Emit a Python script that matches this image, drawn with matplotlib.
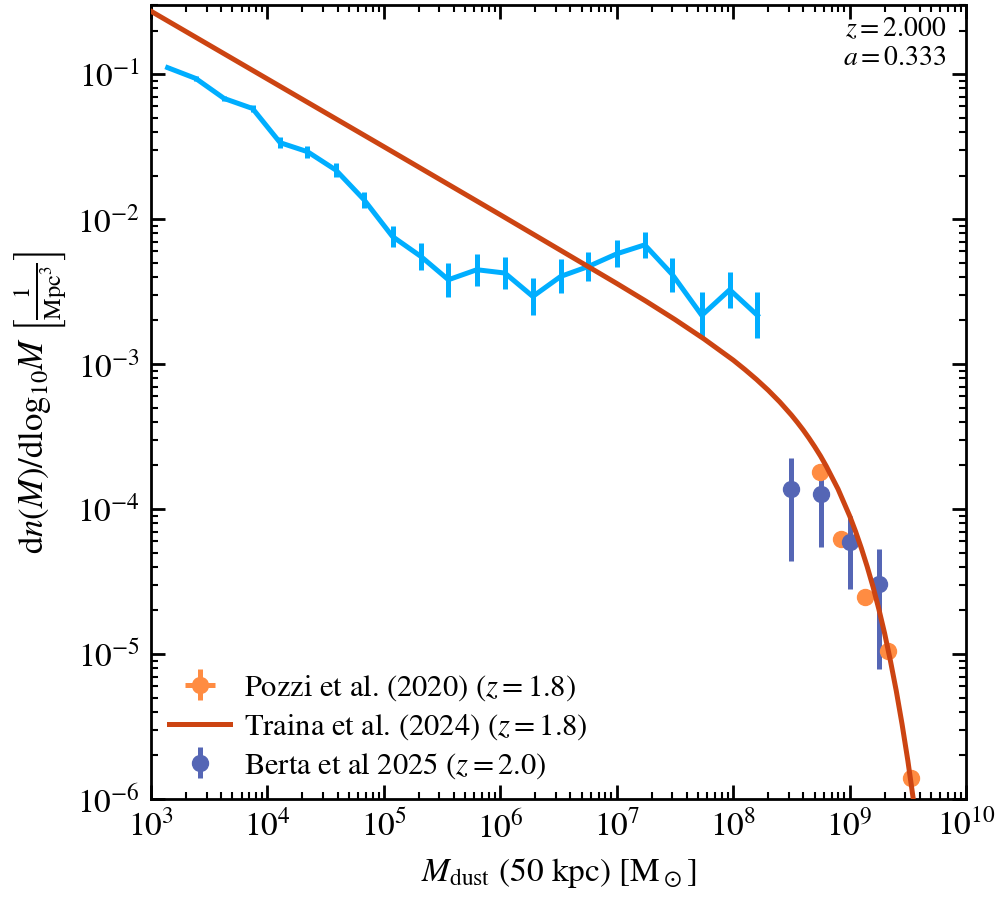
import numpy as np
import matplotlib
matplotlib.use("Agg")
import matplotlib.pyplot as plt

# ---- Data ----
# Simulation (blue line with error bars)
sim_logm = [3.143, 3.385, 3.628, 3.872, 4.109, 4.344, 4.588, 4.830, 5.074, 5.318,
            5.554, 5.798, 6.039, 6.279, 6.519, 6.757, 7.000, 7.240, 7.478, 7.730,
            7.970, 8.208]
sim_phi = [0.111, 0.0934, 0.068, 0.058, 0.0337, 0.0292, 0.0218, 0.0136, 0.00759, 0.00553,
           0.00382, 0.00448, 0.00425, 0.00293, 0.00403, 0.00472, 0.00577, 0.00665, 0.00414, 0.00217,
           0.00326, 0.00217]
sim_err_dex = [0.01, 0.02, 0.02, 0.025, 0.04, 0.04, 0.05, 0.055, 0.075, 0.096,
               0.117, 0.11, 0.11, 0.13, 0.117, 0.103, 0.093, 0.09, 0.117, 0.158,
               0.124, 0.158]

# Traina et al. (2024) curve
tr_logm = [3.0, 4.0, 5.0, 6.0, 7.0, 7.25, 7.5, 7.75, 8.0, 8.1, 8.2, 8.3, 8.4, 8.45, 8.5, 8.55,
           8.6, 8.65, 8.7, 8.75, 8.8, 8.9, 9.0, 9.05, 9.1, 9.15, 9.2, 9.25, 9.3, 9.35, 9.4,
           9.45, 9.5, 9.55, 9.6]
tr_phi = [0.272, 0.0927, 0.0316, 0.01072, 0.00360, 0.00272, 0.00203, 0.00149, 0.001066, 9.18e-4,
          7.84e-4, 6.61e-4, 5.48e-4, 4.94e-4, 4.45e-4, 3.97e-4, 3.52e-4, 3.09e-4, 2.69e-4, 2.32e-4,
          1.97e-4, 1.375e-4, 8.97e-5, 7.03e-5, 5.38e-5, 4.02e-5, 2.92e-5, 2.05e-5, 1.39e-5, 8.98e-6,
          5.58e-6, 3.28e-6, 1.83e-6, 9.5e-7, 4.6e-7]

# Pozzi et al. (2020)
pz_logm = [8.745, 8.923, 9.131, 9.332, 9.524]
pz_phi = [1.79e-4, 6.21e-5, 2.49e-5, 1.05e-5, 1.40e-6]
pz_err_dex = [0.04, 0.04, 0.04, 0.04, 0.04]
pz_xerr_dex = [0.04, 0.04, 0.04, 0.04, 0.04]

# Berta et al 2025
bt_logm = [8.5, 8.75, 9.0, 9.25]
bt_phi = [1.37e-4, 1.28e-4, 5.89e-5, 3.04e-5]
bt_lo = [4.40e-5, 5.45e-5, 2.81e-5, 7.91e-6]
bt_hi = [2.26e-4, 2.04e-4, 8.97e-5, 5.30e-5]

# ---- Style ----
plt.rcParams['font.family'] = ['STIXGeneral', 'DejaVu Serif']
plt.rcParams['mathtext.fontset'] = 'stix'

fig = plt.figure(figsize=(9.96, 9.0), dpi=100)
ax = fig.add_axes([0.1516, 0.1122, 0.970 - 0.1516, 0.9944 - 0.1122])

c_sim = '#00AEFF'
c_tr = '#CC4412'
c_pz = '#FF8C42'
c_bt = '#5566B5'

# Simulation
sx = 10 ** np.array(sim_logm)
sy = np.array(sim_phi)
sd = np.array(sim_err_dex)
ax.errorbar(sx, sy, yerr=[sy - sy * 10 ** (-sd), sy * 10 ** sd - sy],
            color=c_sim, lw=3.6, elinewidth=3.6, capsize=0, zorder=2)

# Pozzi
px = 10 ** np.array(pz_logm)
py = np.array(pz_phi)
pdy = np.array(pz_err_dex)
pdx = np.array(pz_xerr_dex)
h_pz = ax.errorbar(px, py, yerr=[py - py * 10 ** (-pdy), py * 10 ** pdy - py],
                   xerr=[px - px * 10 ** (-pdx), px * 10 ** pdx - px],
                   fmt='o', color=c_pz, ms=11.5, elinewidth=3.6, capsize=0,
                   label=r'Pozzi et al. (2020) ($z = 1.8$)')

# Berta
bx = 10 ** np.array(bt_logm)
by = np.array(bt_phi)
h_bt = ax.errorbar(bx, by, yerr=[by - np.array(bt_lo), np.array(bt_hi) - by],
                   fmt='o', color=c_bt, ms=11.5, elinewidth=3.6, capsize=0,
                   label=r'Berta et al 2025 ($z = 2.0$)')

# Traina
h_tr, = ax.plot(10 ** np.array(tr_logm), tr_phi, color=c_tr, lw=3.6, zorder=3,
                label=r'Traina et al. (2024) ($z = 1.8$)')

ax.set_xscale('log')
ax.set_yscale('log')
ax.set_xlim(1e3, 1e10)
ax.set_ylim(1e-6, 0.3)

ax.tick_params(which='both', direction='in', top=True, right=True, labelsize=24, pad=8)
ax.tick_params(which='major', length=10, width=2)
ax.tick_params(which='minor', length=5, width=1.5)
ax.xaxis.set_major_locator(matplotlib.ticker.LogLocator(base=10, numticks=20))
ax.xaxis.set_minor_locator(matplotlib.ticker.LogLocator(base=10, subs=np.arange(2, 10), numticks=20))
ax.yaxis.set_major_locator(matplotlib.ticker.LogLocator(base=10, numticks=20))
ax.yaxis.set_minor_locator(matplotlib.ticker.LogLocator(base=10, subs=np.arange(2, 10), numticks=20))
ax.xaxis.set_minor_formatter(matplotlib.ticker.NullFormatter())
ax.yaxis.set_minor_formatter(matplotlib.ticker.NullFormatter())
for s in ax.spines.values():
    s.set_linewidth(2)

ax.set_xlabel(r'$M_{\mathrm{dust}}$ (50 kpc) [M$_\odot$]', fontsize=24, labelpad=8)
ax.set_ylabel(r'$\mathrm{d}n(M)/\mathrm{dlog}_{10}M\ \left[\frac{1}{\mathrm{Mpc}^3}\right]$', fontsize=25,
              labelpad=6)

ax.text(0.976, 0.985, '$z = 2.000$\n$a = 0.333$', transform=ax.transAxes,
        ha='right', va='top', fontsize=20, linespacing=1.15)

ax.legend(handles=[h_pz, h_tr, h_bt], loc='lower left', frameon=False, fontsize=22,
          bbox_to_anchor=(0.0, 0.0), borderaxespad=0.2, handlelength=2.0,
          handletextpad=0.45, labelspacing=0.3)

fig.savefig('out.png', dpi=100)
